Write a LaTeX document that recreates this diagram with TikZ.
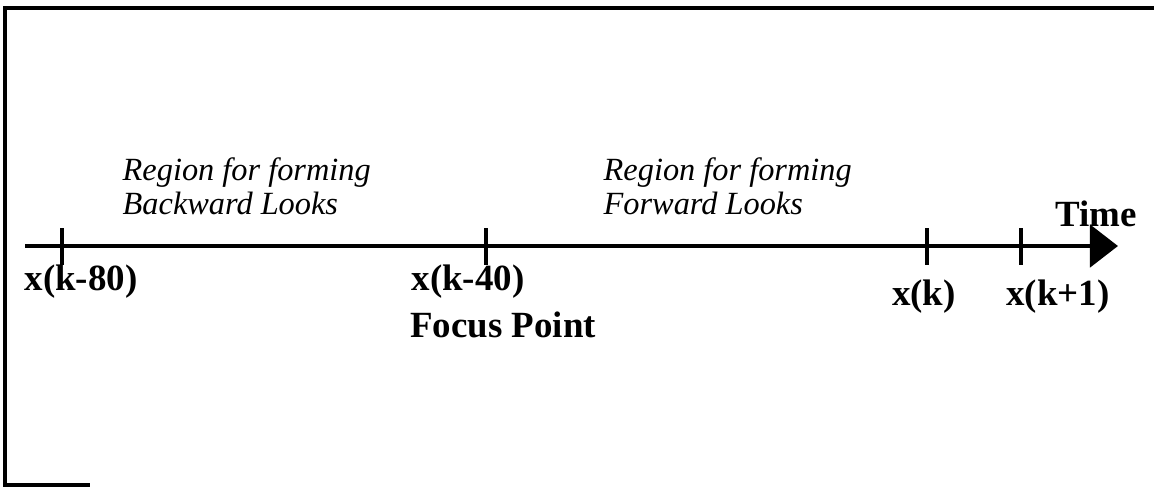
\documentclass[tikz,border=0pt]{standalone}
\usepackage{fontspec}
\setmainfont{Liberation Serif}
\usetikzlibrary{arrows.meta}
\begin{document}
\begin{tikzpicture}[x=0.01cm,y=-0.01cm,
  axisline/.style={line width=1.4pt},
  tickmark/.style={line width=1.2pt},
  framel/.style={line width=0.9pt},
  lbl/.style={font=\fontsize{10.5}{12}\selectfont\bfseries, inner sep=0pt},
  region/.style={font=\fontsize{9.2}{10}\selectfont\itshape, align=left, inner sep=0pt, anchor=base west}]
\useasboundingbox (0,0) rectangle (1154,487);
% frame
\coordinate (ftr) at (1154,8);
\coordinate (ftl) at (5,8);
\coordinate (fbl) at (5,485);
\coordinate (fbr) at (90,485);
\draw[framel] (ftr) -- (ftl) -- (fbl) -- (fbr);
% axis
\coordinate (a0) at (25,246);
\coordinate (a1) at (1118,246);
\draw[axisline,-{Triangle[length=0.28cm,width=0.42cm]}] (a0) -- (a1);
% ticks
\foreach \n/\x in {t1/62,t2/486,t3/927,t4/1021}{
  \coordinate (\n) at (\x,246);
  \draw[tickmark] ([yshift=0.18cm]\n) -- ([yshift=-0.19cm]\n);
}
% labels
\node[lbl] (l1) at (81,282) {x(k-80)};
\node[lbl] (l2) at (468,282) {x(k-40)};
\node[lbl] (fp) at (503,325) {Focus Point};
\node[lbl] (l3) at (924,297) {x(k)};
\node[lbl] (l4) at (1058,297) {x(k+1)};
\node[lbl] (tm) at (1096,214) {Time};
\node[region] (rb1) at (122,180) {Region for forming};
\node[region] (rb2) at (122,214) {Backward Looks};
\node[region] (rf1) at (603,180) {Region for forming};
\node[region] (rf2) at (603,214) {Forward Looks};
\end{tikzpicture}
\end{document}
